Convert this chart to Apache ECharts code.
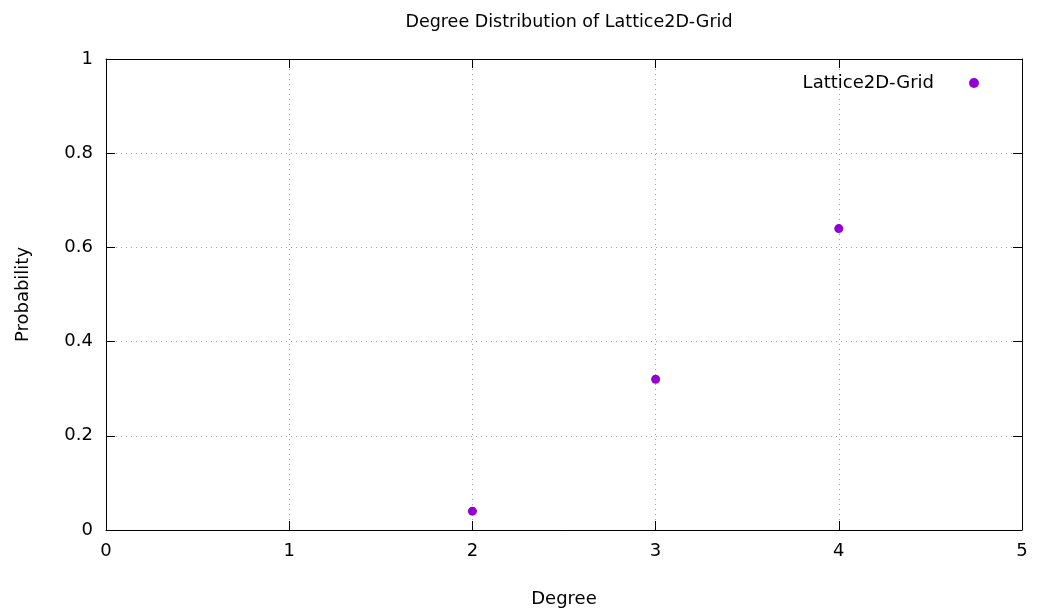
<!DOCTYPE html>
<html>
<head>
<meta charset="utf-8">
<script src="https://cdn.jsdelivr.net/npm/echarts@6/dist/echarts.min.js"></script>
<style>
  html, body { margin: 0; padding: 0; background: #fff; }
  #chart { width: 1043px; height: 615px; }
</style>
</head>
<body>
<div id="chart"></div>
<script>
// Degree distribution of a 2D lattice grid
const degrees = [2, 3, 4];
const probabilities = [0.04, 0.32, 0.64];
const seriesName = 'Lattice2D-Grid';
const xTicks = [0, 1, 2, 3, 4, 5];
const yTicks = [0, 0.2, 0.4, 0.6, 0.8, 1];

const FONT = '"DejaVu Sans", sans-serif';
const points = degrees.map((d, i) => [d, probabilities[i]]);

const chart = echarts.init(document.getElementById('chart'));

const baseAxis = {
  axisLine: { show: true, onZero: false, lineStyle: { color: '#000', width: 1 } },
  axisTick: { show: true, inside: true, length: 9, lineStyle: { color: '#000' } },
  splitLine: { show: false }
};

const gridDots = { show: true, lineStyle: { color: '#a0a0a0', type: [1, 4], width: 1 } };

chart.setOption({
  animation: false,
  backgroundColor: '#fff',
  title: {
    text: 'Degree Distribution of Lattice2D-Grid',
    left: 564, top: 8, textAlign: 'center',
    textStyle: { fontFamily: FONT, fontSize: 17.5, fontWeight: 'normal', color: '#000' }
  },
  legend: {
    data: [seriesName],
    right: 59, top: 69,
    align: 'right',
    itemWidth: 10, itemHeight: 10, itemGap: 10,
    textStyle: { fontFamily: FONT, fontSize: 18, color: '#000', padding: [0, 30, 0, 0] }
  },
  grid: { left: 106, right: 21, top: 59, bottom: 85, containLabel: false },
  xAxis: [
    Object.assign({}, baseAxis, {
      type: 'value', min: 0, max: 5, interval: 1,
      name: 'Degree', nameLocation: 'middle', nameGap: 60,
      nameTextStyle: { fontFamily: FONT, fontSize: 18, color: '#000' },
      axisLabel: { fontFamily: FONT, fontSize: 18, color: '#000', margin: 12,
        formatter: v => xTicks.includes(v) ? String(v) : '' },
      splitLine: gridDots
    }),
    Object.assign({}, baseAxis, {
      type: 'value', min: 0, max: 5, interval: 1, position: 'top',
      axisLabel: { show: false }
    })
  ],
  yAxis: [
    Object.assign({}, baseAxis, {
      type: 'value', min: 0, max: 1, interval: 0.2,
      name: 'Probability', nameLocation: 'middle', nameGap: 74, nameRotate: 90,
      nameTextStyle: { fontFamily: FONT, fontSize: 18, color: '#000' },
      axisLabel: { fontFamily: FONT, fontSize: 18, color: '#000', margin: 13,
        formatter: v => { const t = yTicks.find(y => Math.abs(y - v) < 1e-9); return t === undefined ? '' : String(t); } },
      splitLine: gridDots
    }),
    Object.assign({}, baseAxis, {
      type: 'value', min: 0, max: 1, interval: 0.2, position: 'right',
      axisLabel: { show: false }
    })
  ],
  series: [{
    name: seriesName,
    type: 'scatter',
    data: points,
    symbol: 'circle',
    symbolSize: 9,
    itemStyle: { color: '#9400d3', opacity: 1 },
    emphasis: { disabled: true }
  }]
});
</script>
</body>
</html>
